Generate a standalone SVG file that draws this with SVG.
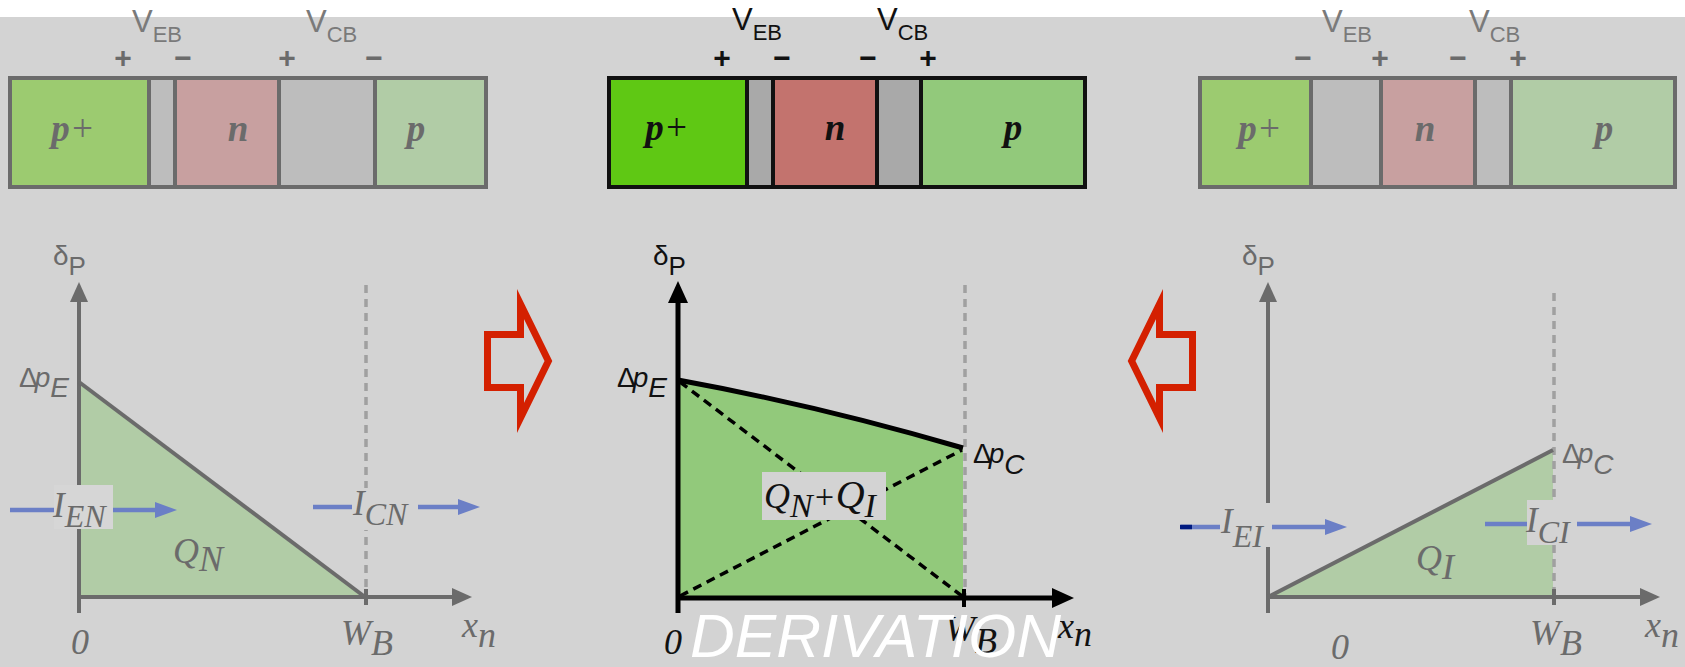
<svg xmlns="http://www.w3.org/2000/svg" width="1685" height="667" viewBox="0 0 1685 667">
<defs>
<style>
.bg{fill:#d3d3d3}
.sg{stroke:#6b6b6b;stroke-width:4}
.sk{stroke:#111;stroke-width:4}
.vg{font-family:"Liberation Sans",Arial,sans-serif;font-size:31px;fill:#7a7a7a}
.vk{font-family:"Liberation Sans",Arial,sans-serif;font-size:31px;fill:#111}
.sub{font-size:22px}
.sgn{font-family:"Liberation Sans",Arial,sans-serif;font-size:30px;font-weight:bold;text-anchor:middle}
.bl{font-family:"Liberation Serif","Times New Roman",serif;font-size:37px;font-style:italic;font-weight:bold;text-anchor:middle}
.lab{font-family:"Liberation Serif","Times New Roman",serif;font-size:36px;font-style:italic}
.cur{font-family:"Liberation Serif","Times New Roman",serif;font-size:35px;font-style:italic}
.sans{font-family:"Liberation Sans",Arial,sans-serif;font-size:28px}
.gt{fill:#6b6b6b}
.kt{fill:#111}
.axg{stroke:#6b6b6b;stroke-width:4;fill:none}
.axk{stroke:#000;stroke-width:5;fill:none}
.dashg{stroke:#a0a0a0;stroke-width:3.5;stroke-dasharray:8 6;fill:none}
.dashk{stroke:#000;stroke-width:3.5;stroke-dasharray:9 6;fill:none}
.blue{stroke:#6b7fc6;stroke-width:4.5;fill:none}
.red{fill:none;stroke:#d42000;stroke-width:7;stroke-miterlimit:10}
</style>
<marker id="mg" markerUnits="userSpaceOnUse" markerWidth="20" markerHeight="18" refX="10" refY="9" orient="auto"><path d="M0,0 L20,9 L0,18 z" fill="#6b6b6b"/></marker>
<marker id="mk" markerUnits="userSpaceOnUse" markerWidth="22" markerHeight="20" refX="10" refY="10" orient="auto"><path d="M0,0 L22,10 L0,20 z" fill="#000"/></marker>
<marker id="mb" markerUnits="userSpaceOnUse" markerWidth="22" markerHeight="16" refX="11" refY="8" orient="auto"><path d="M0,0 L22,8 L0,16 z" fill="#6b7fc6"/></marker>
</defs>
<rect x="0" y="0" width="1685" height="667" fill="#ffffff"/>
<rect class="bg" x="0" y="17" width="1685" height="650"/>

<!-- Left bar -->
<g id="bar-left">
<rect class="sg" x="10" y="78" width="139" height="109" fill="#9ccb70"/>
<rect class="sg" x="149" y="78" width="26" height="109" fill="#bdbdbd"/>
<rect class="sg" x="175" y="78" width="104" height="109" fill="#c8a0a0"/>
<rect class="sg" x="279" y="78" width="96" height="109" fill="#bdbdbd"/>
<rect class="sg" x="375" y="78" width="111" height="109" fill="#b1cca6"/>
<text class="bl gt" x="73" y="141">p<tspan font-weight="normal">+</tspan></text>
<text class="bl gt" x="238" y="141">n</text>
<text class="bl gt" x="416" y="141">p</text>
<text class="vg" x="132" y="32">V<tspan class="sub" dy="10">EB</tspan></text>
<text class="vg" x="306" y="32">V<tspan class="sub" dy="10">CB</tspan></text>
<text class="sgn gt" x="123" y="68">+</text>
<text class="sgn gt" x="183" y="68">−</text>
<text class="sgn gt" x="287" y="68">+</text>
<text class="sgn gt" x="374" y="68">−</text>
</g>

<!-- Middle bar -->
<g id="bar-mid">
<rect class="sk" x="609" y="78" width="138" height="109" fill="#5fc814"/>
<rect class="sk" x="747" y="78" width="26" height="109" fill="#a9a9a9"/>
<rect class="sk" x="773" y="78" width="104" height="109" fill="#c3736e"/>
<rect class="sk" x="877" y="78" width="44" height="109" fill="#a9a9a9"/>
<rect class="sk" x="921" y="78" width="164" height="109" fill="#92c97b"/>
<text class="bl kt" x="667" y="140">p<tspan font-weight="normal">+</tspan></text>
<text class="bl kt" x="835" y="140">n</text>
<text class="bl kt" x="1013" y="140">p</text>
<text class="vk" x="732" y="30">V<tspan class="sub" dy="10">EB</tspan></text>
<text class="vk" x="877" y="30">V<tspan class="sub" dy="10">CB</tspan></text>
<text class="sgn kt" x="722" y="68">+</text>
<text class="sgn kt" x="782" y="68">−</text>
<text class="sgn kt" x="868" y="68">−</text>
<text class="sgn kt" x="928" y="68">+</text>
</g>

<!-- Right bar -->
<g id="bar-right">
<rect class="sg" x="1200" y="78" width="111" height="109" fill="#9ccb70"/>
<rect class="sg" x="1311" y="78" width="70" height="109" fill="#bdbdbd"/>
<rect class="sg" x="1381" y="78" width="94" height="109" fill="#c8a0a0"/>
<rect class="sg" x="1475" y="78" width="36" height="109" fill="#bdbdbd"/>
<rect class="sg" x="1511" y="78" width="164" height="109" fill="#b1cca6"/>
<text class="bl gt" x="1260" y="141">p<tspan font-weight="normal">+</tspan></text>
<text class="bl gt" x="1425" y="141">n</text>
<text class="bl gt" x="1604" y="141">p</text>
<text class="vg" x="1322" y="32">V<tspan class="sub" dy="10">EB</tspan></text>
<text class="vg" x="1469" y="32">V<tspan class="sub" dy="10">CB</tspan></text>
<text class="sgn gt" x="1303" y="68">−</text>
<text class="sgn gt" x="1380" y="68">+</text>
<text class="sgn gt" x="1458" y="68">−</text>
<text class="sgn gt" x="1518" y="68">+</text>
</g>

<!-- Left graph -->
<g id="graph-left">
<polygon points="79,382 365,597 79,597" fill="#b1cca6"/>
<line class="dashg" x1="366" y1="285" x2="366" y2="597"/>
<line class="axg" x1="79" y1="613" x2="79" y2="292" marker-end="url(#mg)"/>
<line class="axg" x1="77" y1="597" x2="462" y2="597" marker-end="url(#mg)"/>
<line class="axg" x1="366" y1="589" x2="366" y2="605"/>
<line x1="79" y1="382" x2="365" y2="597" stroke="#6b6b6b" stroke-width="4"/>
<text class="sans gt" x="53" y="265" font-size="22">δ<tspan font-size="26" dy="10">P</tspan></text>
<text class="sans gt" x="19" y="387">Δ<tspan font-style="italic" dx="-3">p</tspan><tspan font-style="italic" dy="10">E</tspan></text>
<text class="lab gt" x="71" y="654">0</text>
<text class="lab gt" x="341" y="645">W<tspan dy="10">B</tspan></text>
<text class="lab gt" x="462" y="637">x<tspan dy="10">n</tspan></text>
<text class="lab gt" x="173" y="563" font-size="40">Q<tspan dy="8" font-size="36">N</tspan></text>
</g>

<!-- Middle graph -->
<g id="graph-mid">
<path d="M678,380 Q820,406 963,448 L963,598 L678,598 z" fill="#92c97b"/>
<line class="dashg" x1="965" y1="285" x2="965" y2="598"/>
<line class="dashk" x1="680" y1="382" x2="962" y2="596"/>
<line class="dashk" x1="680" y1="596" x2="962" y2="450"/>
<path d="M678,380 Q820,406 963,448" class="axk"/>
<line class="axk" x1="678" y1="613" x2="678" y2="293" marker-end="url(#mk)"/>
<line class="axk" x1="676" y1="598" x2="1062" y2="598" marker-end="url(#mk)"/>
<line x1="964" y1="589" x2="964" y2="607" stroke="#000" stroke-width="4"/>
<rect x="762" y="472" width="124" height="48" fill="#d3d3d3"/>
<text class="lab kt" x="764" y="508" font-size="40">Q<tspan dy="9" font-size="34">N</tspan><tspan dy="-9" font-size="34">+</tspan><tspan font-size="40">Q</tspan><tspan dy="9" font-size="34">I</tspan></text>
<text class="sans kt" x="653" y="265" font-size="22">δ<tspan font-size="26" dy="10">P</tspan></text>
<text class="sans kt" x="617" y="387">Δ<tspan font-style="italic" dx="-3">p</tspan><tspan font-style="italic" dy="10">E</tspan></text>
<text class="sans kt" x="973" y="463">Δ<tspan font-style="italic" dx="-3">p</tspan><tspan font-style="italic" dy="11">C</tspan></text>
<text class="lab kt" x="664" y="654">0</text>
<text class="lab kt" x="945" y="641">W<tspan dy="12">B</tspan></text>
<text class="lab kt" x="1058" y="638">x<tspan dy="8">n</tspan></text>
</g>

<!-- Right graph -->
<g id="graph-right">
<polygon points="1268,597 1553,450 1553,597" fill="#b1cca6"/>
<line class="dashg" x1="1554" y1="293" x2="1554" y2="597"/>
<line class="axg" x1="1268" y1="613" x2="1268" y2="292" marker-end="url(#mg)"/>
<line class="axg" x1="1266" y1="597" x2="1650" y2="597" marker-end="url(#mg)"/>
<line class="axg" x1="1554" y1="589" x2="1554" y2="605"/>
<line x1="1268" y1="597" x2="1553" y2="450" stroke="#6b6b6b" stroke-width="4"/>
<text class="sans gt" x="1242" y="265" font-size="22">δ<tspan font-size="26" dy="10">P</tspan></text>
<text class="sans gt" x="1562" y="463">Δ<tspan font-style="italic" dx="-3">p</tspan><tspan font-style="italic" dy="11">C</tspan></text>
<text class="lab gt" x="1331" y="659">0</text>
<text class="lab gt" x="1530" y="645">W<tspan dy="10">B</tspan></text>
<text class="lab gt" x="1645" y="637">x<tspan dy="10">n</tspan></text>
<text class="lab gt" x="1416" y="570" font-size="40">Q<tspan dy="9" font-size="36">I</tspan></text>
</g>

<!-- Connectors: current arrows and transition arrows -->
<g id="connectors">
<line class="blue" x1="10" y1="510" x2="166" y2="510" marker-end="url(#mb)"/>
<rect x="54" y="485" width="59" height="44" fill="#d6d6d6"/>
<text class="cur gt" x="53" y="517">I<tspan dy="10" font-size="32">EN</tspan></text>

<line class="blue" x1="313" y1="507" x2="469" y2="507" marker-end="url(#mb)"/>
<rect x="352" y="488" width="66" height="42" fill="#d3d3d3"/>
<text class="cur gt" x="353" y="515">I<tspan dy="10" font-size="32">CN</tspan></text>

<line class="blue" x1="1181" y1="527" x2="1336" y2="527" marker-end="url(#mb)"/>
<line x1="1180" y1="527" x2="1192" y2="527" stroke="#001a80" stroke-width="4.5"/>
<rect x="1220" y="503" width="52" height="44" fill="#d3d3d3"/>
<text class="cur gt" x="1221" y="533">I<tspan dy="14" font-size="32">EI</tspan></text>

<line class="blue" x1="1485" y1="524" x2="1641" y2="524" marker-end="url(#mb)"/>
<rect x="1527" y="500" width="50" height="45" fill="#d3d3d3"/>
<text class="cur gt" x="1526" y="532">I<tspan dy="11" font-size="32">CI</tspan></text>

<polygon class="red" points="487.5,334.5 520.5,334.5 520.5,304 548.4,361 520.5,418 520.5,387.5 487.5,387.5"/>
<polygon class="red" points="1192.5,334.5 1159.5,334.5 1159.5,304 1131.6,361 1159.5,418 1159.5,387.5 1192.5,387.5"/>
</g>

<text x="690" y="657" font-family="'Liberation Sans',Arial,sans-serif" font-size="62" font-style="italic" fill="#ffffff">DERIVATION</text>
</svg>
